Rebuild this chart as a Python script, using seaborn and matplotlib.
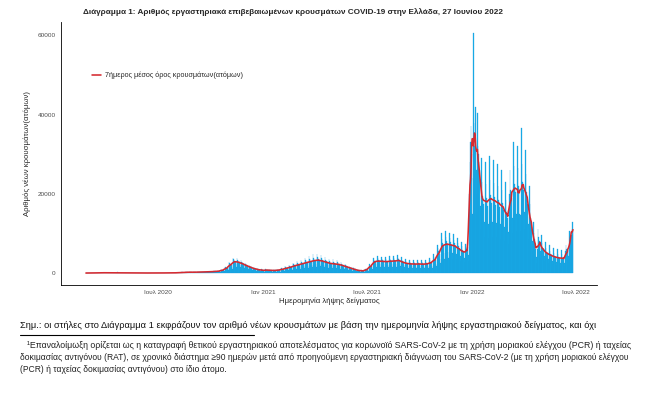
import numpy as np
import pandas as pd
import matplotlib
matplotlib.use("Agg")
import matplotlib.pyplot as plt
import matplotlib.dates as mdates
from matplotlib.lines import Line2D
import seaborn as sns

# daily new cases by sample date (Mon..Sun rows)
cases_2020 = [
    1, 2, 0, 0, 1,
    2, 3, 5, 9, 12, 8, 6,
    25, 31, 28, 22, 38, 33, 18,
    52, 48, 55, 60, 58, 40, 35,
    80, 76, 85, 78, 72, 55, 40,
    88, 80, 72, 70, 65, 48, 36,
    70, 66, 60, 58, 52, 40, 30,
    48, 42, 45, 38, 36, 28, 20,
    60, 150, 70, 40, 30, 22, 15,
    25, 22, 18, 15, 14, 10, 8,
    14, 12, 10, 11, 9, 7, 5,
    12, 10, 9, 8, 10, 6, 4,
    10, 8, 9, 7, 6, 5, 3,
    9, 8, 7, 8, 6, 5, 3,
    10, 9, 8, 10, 12, 7, 5,
    12, 10, 14, 11, 9, 8, 6,
    18, 20, 16, 14, 12, 9, 7,
    20, 18, 25, 22, 15, 12, 8,
    22, 20, 18, 24, 20, 14, 10,
    25, 28, 30, 26, 22, 16, 12,
    35, 30, 32, 28, 26, 20, 14,
    38, 35, 40, 36, 30, 22, 16,
    50, 48, 55, 52, 45, 35, 25,
    90, 95, 110, 100, 90, 70, 55,
    150, 160, 170, 155, 140, 110, 80,
    230, 240, 220, 210, 200, 160, 110,
    270, 260, 250, 240, 230, 180, 130,
    250, 240, 230, 220, 210, 170, 120,
    300, 290, 270, 260, 250, 190, 140,
    340, 320, 300, 290, 280, 210, 150,
    380, 360, 340, 330, 310, 240, 170,
    400, 380, 360, 340, 320, 250, 180,
    480, 460, 430, 410, 400, 300, 220,
    600, 560, 530, 500, 480, 370, 270,
    900, 850, 800, 760, 720, 550, 400,
    1600, 1450, 1350, 1300, 1250, 950, 700,
    2800, 2500, 2300, 2200, 2100, 1600, 1100,
    3800, 3500, 3200, 3000, 2900, 2200, 1500,
    3700, 3400, 3100, 2900, 2700, 2000, 1400,
    3200, 2900, 2700, 2500, 2300, 1700, 1200,
    2600, 2300, 2100, 2000, 1900, 1400, 950,
    2000, 1800, 1650, 1550, 1450, 1100, 750,
    1500, 1350, 1250, 1150, 1100, 800, 550,
    1200, 1100, 1000, 950, 700, 500, 400,
    1100, 1000, 900, 700,
]

cases_2021 = [
    500, 400, 350,
    1000, 950, 850, 800, 750, 550, 400,
    900, 850, 780, 720, 680, 500, 350,
    850, 800, 740, 700, 660, 480, 340,
    950, 880, 820, 780, 740, 540, 380,
    1300, 1150, 1050, 1000, 950, 700, 500,
    1700, 1450, 1300, 1250, 1200, 900, 650,
    2100, 1800, 1600, 1500, 1450, 1050, 750,
    2600, 2200, 1950, 1850, 1800, 1300, 950,
    3000, 2550, 2250, 2150, 2050, 1500, 1050,
    3400, 2900, 2550, 2450, 2300, 1700, 1200,
    3800, 3200, 2850, 2700, 2550, 1900, 1350,
    4200, 3500, 3100, 2950, 2800, 2050, 1450,
    4700, 3900, 3400, 3200, 3050, 2250, 1600,
    4900, 4000, 3500, 3300, 3100, 2300, 1650,
    4500, 3700, 3250, 3050, 2900, 2150, 1500,
    4100, 3350, 2950, 2800, 2600, 1950, 1350,
    3600, 3000, 2600, 2450, 2350, 1700, 1200,
    3500, 2900, 2500, 2350, 2200, 1650, 1150,
    3300, 2700, 2350, 2200, 2100, 1550, 1100,
    2900, 2400, 2100, 1950, 1850, 1350, 950,
    2400, 1950, 1700, 1600, 1500, 1100, 800,
    1900, 1550, 1350, 1250, 1200, 900, 600,
    1400, 1150, 1000, 950, 900, 650, 450,
    1000, 800, 700, 650, 620, 460, 330,
    750, 650, 580, 560, 550, 420, 320,
    1100, 1000, 950, 950, 950, 750, 550,
    2200, 2000, 1900, 1850, 1800, 1400, 1000,
    3800, 3400, 3100, 3000, 2900, 2200, 1500,
    4200, 3700, 3300, 3150, 3000, 2250, 1550,
    4100, 3600, 3200, 3050, 2950, 2200, 1500,
    4000, 3500, 3150, 3000, 2900, 2150, 1500,
    4200, 3600, 3250, 3100, 2950, 2200, 1550,
    4300, 3700, 3300, 3150, 3000, 2250, 1550,
    4500, 3900, 3450, 3300, 3150, 2300, 1650,
    4000, 3400, 3000, 2850, 2700, 2000, 1400,
    3500, 3000, 2650, 2500, 2400, 1750, 1250,
    3300, 2850, 2500, 2400, 2250, 1650, 1200,
    3250, 2800, 2450, 2350, 2200, 1600, 1150,
    3300, 2850, 2500, 2400, 2250, 1650, 1150,
    3200, 2750, 2450, 2300, 2200, 1600, 1150,
    3300, 2850, 2500, 2400, 2250, 1650, 1200,
    3700, 3200, 2850, 2700, 2550, 1850, 1300,
    4800, 4150, 3650, 3500, 3300, 2400, 1700,
    7200, 6200, 5500, 5200, 4900, 3600, 2500,
    10000, 8600, 7600, 7200, 6800, 5000, 3500,
    10500, 9000, 8000, 7600, 7200, 5200, 3700,
    10200, 8800, 7800, 7400, 7000, 5100, 3600,
    9800, 8400, 7500, 7100, 6700, 4900, 3500,
    8800, 7600, 6700, 6400, 6000, 4400, 3100,
    7800, 6700, 5900, 5600, 5300, 3900, 2800,
    7300, 6400, 6000, 6200, 6500, 4500, 3000,
    20000, 28000, 33000, 37000, 30000,
]

cases_2022 = [
    15000, 24000,
    60500, 38000, 32000, 25000, 42000, 26000, 20000,
    40500, 32000, 30000, 28000, 26000, 17000, 11000,
    29000, 23000, 19500, 18500, 17500, 13000, 9000,
    28000, 22500, 19000, 18000, 17000, 12500, 8800,
    29500, 23500, 19800, 18800, 17800, 13000, 9200,
    28500, 22800, 19200, 18200, 17300, 12700, 9000,
    27500, 22000, 18500, 17600, 16700, 12300, 8700,
    26000, 21000, 17600, 16700, 15800, 11600, 8200,
    23000, 18500, 15500, 14800, 14000, 10300, 7300,
    20000, 26000, 21000, 20000, 19000, 14000, 10000,
    33000, 27000, 22500, 21500, 20500, 15000, 10700,
    32000, 26500, 22000, 21000, 15000, 14700, 10500,
    36500, 27500, 23000, 22000, 21000, 15500, 11000,
    31000, 25000, 20500, 19000, 17500, 12500, 8500,
    22000, 17500, 14000, 12500, 11500, 8000, 5500,
    13000, 10000, 8500, 7500, 6000, 4000, 2500,
    6000, 11000, 9000, 8000, 7500, 5500, 3800,
    9500, 7600, 6400, 6000, 5700, 4200, 3000,
    7800, 6300, 5300, 5000, 4700, 3500, 2500,
    7000, 5600, 4700, 4500, 4300, 3100, 2200,
    6300, 5100, 4300, 4100, 3900, 2800, 2000,
    6000, 4800, 4000, 3800, 3600, 2600, 1900,
    5800, 4700, 3900, 3700, 3500, 2600, 1800,
    5500, 7000, 6000, 5800, 5500, 4200, 3300,
    10500, 9000, 9000, 9500, 11000, 12800, 10500,
]

first_day = "2020-02-26"
tick_dates = ["2020-07-01", "2021-01-01", "2021-07-01", "2022-01-01", "2022-07-01"]
tick_labels = ["Ιουλ 2020", "Ιαν 2021", "Ιουλ 2021", "Ιαν 2022", "Ιουλ 2022"]
y_ticks = [0, 20000, 40000, 60000]

title = ("Διάγραμμα 1: Αριθμός εργαστηριακά επιβεβαιωμένων κρουσμάτων "
         "COVID-19 στην Ελλάδα, 27 Ιουνίου 2022")
legend_label = "7ήμερος μέσος όρος κρουσμάτων(ατόμων)"
note = ("Σημ.: οι στήλες στο Διάγραμμα 1 εκφράζουν τον αριθμό νέων κρουσμάτων "
        "με βάση την ημερομηνία λήψης εργαστηριακού δείγματος, και όχι")
footnote = [
    "\u00b9Επαναλοίμωξη ορίζεται ως η καταγραφή θετικού εργαστηριακού αποτελέσματος "
    "για κορωνοϊό SARS-CoV-2 με τη χρήση μοριακού ελέγχου (PCR) ή ταχείας",
    "δοκιμασίας αντιγόνου (RAT), σε χρονικό διάστημα ≥90 ημερών μετά από προηγούμενη "
    "εργαστηριακή διάγνωση του SARS-CoV-2 (με τη χρήση μοριακού ελέγχου",
    "(PCR) ή ταχείας δοκιμασίας αντιγόνου) στο ίδιο άτομο.",
]

cases = cases_2020 + cases_2021 + cases_2022
df = pd.DataFrame({"date": pd.date_range(first_day, periods=len(cases), freq="D"),
                   "cases": cases})
df["day"] = mdates.date2num(df["date"])
df["avg7"] = df["cases"].rolling(7, center=True, min_periods=1).mean()

sns.set_theme(style="white")
plt.rcParams["font.family"] = ["Liberation Sans", "DejaVu Sans"]
note_font = ["Liberation Sans", "DejaVu Sans"]

fig = plt.figure(figsize=(6.5, 3.96), dpi=100)
ax = fig.add_axes([0.0934, 0.2803, 0.8251, 0.6649])
renderer = fig.canvas.get_renderer()


def fit_width(txt, target_px):
    w = txt.get_window_extent(renderer).width
    txt.set_fontsize(txt.get_fontsize() * target_px / w)


sns.histplot(data=df, x="day", weights="cases", discrete=True, color="#16AFE9",
             alpha=1, edgecolor="#1A9ADB", linewidth=0.2, ax=ax)
sns.lineplot(data=df, x="day", y="avg7", color="#D52A30", linewidth=1.15,
             label=legend_label, ax=ax)

ax.set_xlim(mdates.date2num(pd.Timestamp("2020-01-13")),
            mdates.date2num(pd.Timestamp("2022-08-07")))
ax.set_ylim(-3022, 63458)
ax.set_xticks(mdates.date2num(pd.to_datetime(tick_dates)))
ax.set_xticklabels(tick_labels)
ax.set_yticks(y_ticks)
ax.set_yticklabels([str(v) for v in y_ticks])
ax.tick_params(axis="both", labelsize=4.6, colors="#333333", labelcolor="#4D4D4D",
               length=2, width=0.5, pad=1.5)
ax.set_xlabel("Ημερομηνία λήψης δείγματος", fontsize=5.6, labelpad=2)
ax.set_ylabel("Αριθμός νέων κρουσμάτων(ατόμων)", fontsize=5.6, labelpad=5)
for side in ["top", "right"]:
    ax.spines[side].set_visible(False)
for side in ["left", "bottom"]:
    ax.spines[side].set_color("black")
    ax.spines[side].set_linewidth(0.6)

leg = ax.legend(loc="center left", bbox_to_anchor=(0.047, 0.797), frameon=False,
                fontsize=4.8, handlelength=1.3, handletextpad=0.7)
fit_width(leg.get_texts()[0], 137)

title_txt = fig.text(83 / 650, 1 - 12 / 396, title, fontsize=6, fontweight="bold",
                     ha="left", va="center")
fit_width(title_txt, 423)

note_txt = fig.text(20 / 650, 1 - 325 / 396, note, fontsize=6.2, color="#111111",
                    ha="left", va="center", family=note_font)
fit_width(note_txt, 579)
fig.add_artist(Line2D([20 / 650, 254 / 650], [1 - 335 / 396, 1 - 335 / 396],
                      color="black", linewidth=0.8))

foot_x = [27, 20, 20]
foot_y = [345, 357.5, 370]
foot_w = [610, 617, 0]
foot_size = None
for txt, fx, fy, fw in zip(footnote, foot_x, foot_y, foot_w):
    t = fig.text(fx / 650, 1 - fy / 396, txt, fontsize=5.0, color="#222222",
                 ha="left", va="center", family=note_font)
    if fw:
        fit_width(t, fw)
        foot_size = t.get_fontsize() if foot_size is None else min(foot_size, t.get_fontsize())
    else:
        t.set_fontsize(foot_size)

fig.savefig("out.png", dpi=100)
